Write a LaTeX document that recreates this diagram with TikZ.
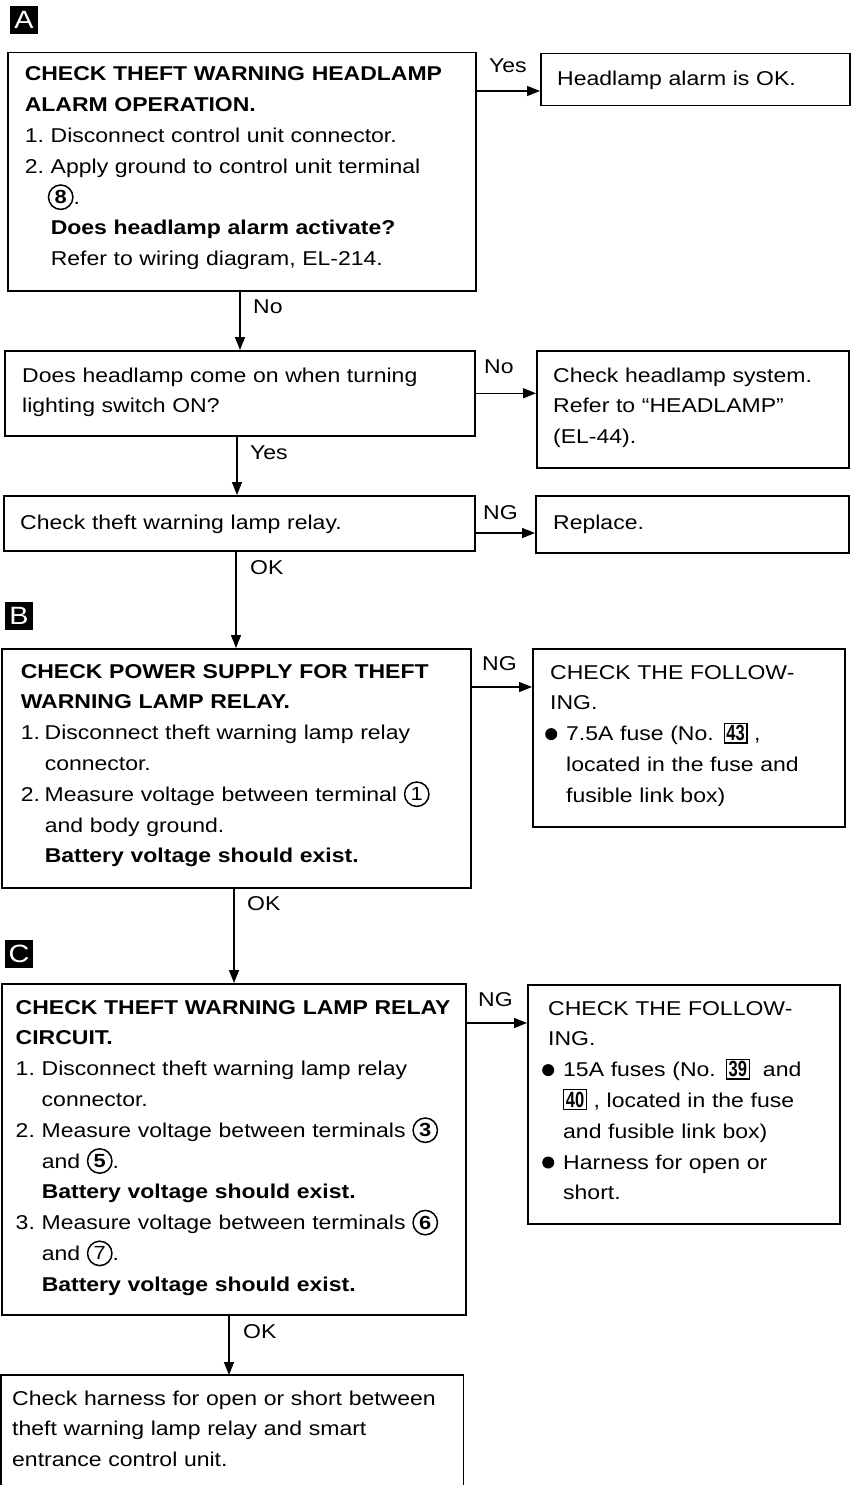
\documentclass[tikz,border=0pt]{standalone}
\usepackage{fontspec}
\setmainfont{Liberation Sans}[FakeStretch=1.15]
\newfontfamily\numfont{Liberation Sans}[FakeStretch=0.75]
\usetikzlibrary{arrows.meta}
\newcommand\cnum[2][\bfseries]{%
 \begin{pgfpicture}\pgfsetbaseline{0pt}%
 \pgfsetlinewidth{1.5pt}%
 \pgfpathcircle{\pgfpoint{13pt}{7pt}}{12.2pt}%
 \pgfusepath{stroke}%
 \pgftext[at={\pgfpoint{13pt}{7pt}}]{\fontsize{19}{19}\selectfont#1#2}%
 \end{pgfpicture}}
\newcommand\blt{%
 \begin{pgfpicture}\pgfsetbaseline{0pt}%
 \pgfpathcircle{\pgfpoint{6pt}{6.5pt}}{6pt}%
 \pgfusepath{fill}%
 \end{pgfpicture}}
\newcommand\bnum[1]{{\setlength\fboxsep{1.6pt}\setlength\fboxrule{1.1pt}\fbox{\numfont\bfseries\fontsize{22}{22}\selectfont#1}}}
\tikzset{
 box/.style={draw, line width=1.5pt, rectangle, inner sep=0pt, anchor=north west},
 txt/.style={anchor=base west, inner sep=0pt, align=left, text width=#1, font=\fontsize{20}{30.8}\selectfont},
 txt/.default=450pt,
 lbl/.style={anchor=base west, inner sep=0pt, font=\fontsize{20}{24}\selectfont},
 arr/.style={line width=1.5pt, -{Triangle[length=13pt,width=10pt]}},
 marker/.style={fill=black, text=white, minimum size=28pt, inner sep=0pt, font=\fontsize{25}{25}\selectfont}
}
\begin{document}
\begin{tikzpicture}[x=1pt,y=-1pt]
\useasboundingbox (0,0) rectangle (856,1485);
% section markers
\node[marker] (mA) at (24,20) {A};
\node[marker] (mB) at (19,616) {B};
\node[marker] (mC) at (19,954) {C};
% boxes
\node[box, minimum width=468pt, minimum height=238pt] (A) at (7,52) {};
\node[box, minimum width=309pt, minimum height=52pt] (Aok) at (540,53) {};
\node[box, minimum width=470pt, minimum height=85pt] (Q) at (4,350) {};
\node[box, minimum width=312pt, minimum height=117pt] (Qno) at (536,350) {};
\node[box, minimum width=471pt, minimum height=55pt] (R) at (3,495) {};
\node[box, minimum width=313pt, minimum height=57pt] (Rep) at (535,495) {};
\node[box, minimum width=469pt, minimum height=239pt] (B) at (1,648) {};
\node[box, minimum width=312pt, minimum height=178pt] (Bng) at (532,648) {};
\node[box, minimum width=464pt, minimum height=331pt] (C) at (1,983) {};
\node[box, minimum width=312pt, minimum height=239pt] (Cng) at (527,984) {};
\node[box, draw=none, minimum width=461pt, minimum height=110pt] (F) at (1,1375) {};
\draw[line width=1.5pt] (F.south west) -- (F.north west) -- (F.north east) -- (F.south east);
% texts
\node[txt] (tA) at (24,81) {\textbf{CHECK THEFT WARNING HEADLAMP}\\
\textbf{ALARM OPERATION.}\\
\makebox[26pt][l]{1.}Disconnect control unit connector.\\
\makebox[26pt][l]{2.}Apply ground to control unit terminal\\
\hspace*{23pt}\cnum{8}.\\
\hspace*{26pt}\textbf{Does headlamp alarm activate?}\\
\hspace*{26pt}Refer to wiring diagram, EL-214.};
\node[txt=290pt] (tAok) at (557,86) {Headlamp alarm is OK.};
\node[txt] (tQ) at (22,382) {Does headlamp come on when turning\\lighting switch ON?};
\node[txt=290pt] (tQno) at (553,382) {Check headlamp system.\\Refer to “HEADLAMP”\\(EL-44).};
\node[txt] (tR) at (20,529) {Check theft warning lamp relay.};
\node[txt=290pt] (tRep) at (553,529) {Replace.};
\node[txt] (tB) at (20,678) {\textbf{CHECK POWER SUPPLY FOR THEFT}\\
\textbf{WARNING LAMP RELAY.}\\
\makebox[24pt][l]{1.}Disconnect theft warning lamp relay\\
\hspace*{24pt}connector.\\
\makebox[24pt][l]{2.}Measure voltage between terminal \cnum[\mdseries]{1}\\
\hspace*{24pt}and body ground.\\
\hspace*{24pt}\textbf{Battery voltage should exist.}};
\node[txt=295pt] (tBng) at (550,679) {CHECK THE FOLLOW-\\
ING.\\
\makebox[16pt][l]{\hspace*{-5pt}\blt}7.5A fuse (No. \bnum{43} ,\\
\hspace*{16pt}located in the fuse and\\
\hspace*{16pt}fusible link box)};
\node[txt] (tC) at (15,1014) {\textbf{CHECK THEFT WARNING LAMP RELAY}\\
\textbf{CIRCUIT.}\\
\makebox[26pt][l]{1.}Disconnect theft warning lamp relay\\
\hspace*{26pt}connector.\\
\makebox[26pt][l]{2.}Measure voltage between terminals \cnum{3}\\
\hspace*{26pt}and \cnum{5}.\\
\hspace*{26pt}\textbf{Battery voltage should exist.}\\
\makebox[26pt][l]{3.}Measure voltage between terminals \cnum{6}\\
\hspace*{26pt}and \cnum[\mdseries]{7}.\\
\hspace*{26pt}\textbf{Battery voltage should exist.}};
\node[txt=295pt] (tCng) at (548,1015) {CHECK THE FOLLOW-\\
ING.\\
\makebox[15pt][l]{\hspace*{-6pt}\blt}15A fuses (No. \bnum{39}\ \ and\\
\hspace*{15pt}\bnum{40} , located in the fuse\\
\hspace*{15pt}and fusible link box)\\
\makebox[15pt][l]{\hspace*{-6pt}\blt}Harness for open or\\
\hspace*{15pt}short.};
\node[txt] (tF) at (12,1405) {Check harness for open or short between\\
theft warning lamp relay and smart\\
entrance control unit.};
% connector reference lines
\coordinate (vA) at (240,0);
\coordinate (vQ) at (237,0);
\coordinate (vR) at (236,0);
\coordinate (vB) at (234,0);
\coordinate (vC) at (229,0);
\coordinate (hA) at (0,91);
\coordinate (hR) at (0,533);
\coordinate (hB) at (0,687);
\coordinate (hC) at (0,1023);
% connectors
\draw[arr] (A.east |- hA) -- (Aok.west |- hA);
\draw[arr] (A.south -| vA) -- (Q.north -| vA);
\draw[arr] (Q.east) -- (Qno.west |- Q.east);
\draw[arr] (Q.south -| vQ) -- (R.north -| vQ);
\draw[arr] (R.east |- hR) -- (Rep.west |- hR);
\draw[arr] (R.south -| vR) -- (B.north -| vR);
\draw[arr] (B.east |- hB) -- (Bng.west |- hB);
\draw[arr] (B.south -| vB) -- (C.north -| vB);
\draw[arr] (C.east |- hC) -- (Cng.west |- hC);
\draw[arr] (C.south -| vC) -- (F.north -| vC);
% labels
\node[lbl] (lYes1) at (489,73) {Yes};
\node[lbl] (lNo1) at (253,313) {No};
\node[lbl] (lNo2) at (484,373) {No};
\node[lbl] (lYes2) at (250,459) {Yes};
\node[lbl] (lNG1) at (483,519) {NG};
\node[lbl] (lOK1) at (250,574) {OK};
\node[lbl] (lNG2) at (482,670) {NG};
\node[lbl] (lOK2) at (247,910) {OK};
\node[lbl] (lNG3) at (478,1006) {NG};
\node[lbl] (lOK3) at (243,1338) {OK};
\end{tikzpicture}
\end{document}
